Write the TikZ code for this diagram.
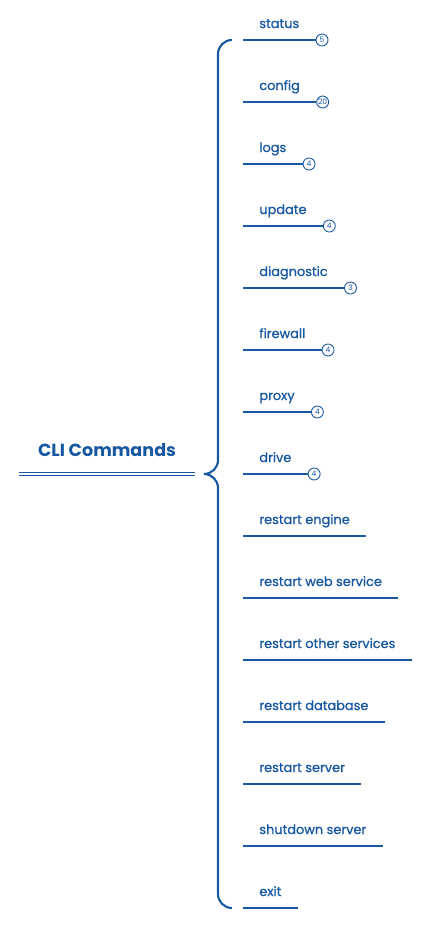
\documentclass[tikz,border=0pt]{standalone}
\usepackage{fontspec}
\setmainfont{Poppins}
\newfontfamily\cmdfont{Poppins}[FakeBold=1.0]
\definecolor{cmdblue}{RGB}{24,88,160}
\tikzset{
  title/.style={text=cmdblue, font=\fontsize{10}{12}\selectfont\bfseries},
  cmd/.style={anchor=base west, inner xsep=0.32cm, inner ysep=0pt, text=cmdblue, font=\cmdfont\fontsize{7.35}{8}\selectfont},
  cmdline/.style={cmdblue, line width=1.2pt},
  badge/.style={circle, draw=cmdblue, fill=white, line width=0.5pt, inner sep=0pt, minimum size=0.24cm, text=cmdblue, font=\fontsize{4.3}{5}\selectfont, anchor=west},
}

\begin{document}
\begin{tikzpicture}[x=0.02cm,y=-0.02cm]
      \useasboundingbox (0,0) rectangle (441,934);
      % root
      \node[title] (root) at (107,450) {CLI Commands};
      \coordinate (rootw) at (19,474);
      \coordinate (roote) at (195,474);
      \draw[cmdblue, double, double distance=1pt, line width=0.8pt] (rootw) -- (roote);
      % brace
      \coordinate (tip) at (204,474);
      \coordinate (top) at (232,40);
      \coordinate (bottom) at (232,908);
      \draw[cmdline] (tip) to[out=0,in=-90] (218,460) -- (218,54) to[out=90,in=180] (top);
      \draw[cmdline] (tip) to[out=0,in=90] (218,488) -- (218,894) to[out=-90,in=180] (bottom);
      % commands with counts
      \node[cmd] (status) at (243,28) {status};
      \draw[cmdline] (status.west |- 0,40) -- (status.east |- 0,40) node[badge] (statusn) {5};
      \node[cmd] (config) at (243,90) {config};
      \draw[cmdline] (config.west |- 0,102) -- (config.east |- 0,102) node[badge] (confign) {20};
      \node[cmd] (logs) at (243,152) {logs};
      \draw[cmdline] (logs.west |- 0,164) -- (logs.east |- 0,164) node[badge] (logsn) {4};
      \node[cmd] (update) at (243,214) {update};
      \draw[cmdline] (update.west |- 0,226) -- (update.east |- 0,226) node[badge] (updaten) {4};
      \node[cmd] (diag) at (243,276) {diagnostic};
      \draw[cmdline] (diag.west |- 0,288) -- (diag.east |- 0,288) node[badge] (diagn) {3};
      \node[cmd] (firewall) at (243,338) {firewall};
      \draw[cmdline] (firewall.west |- 0,350) -- (firewall.east |- 0,350) node[badge] (firewalln) {4};
      \node[cmd] (proxy) at (243,400) {proxy};
      \draw[cmdline] (proxy.west |- 0,412) -- (proxy.east |- 0,412) node[badge] (proxyn) {4};
      \node[cmd] (drive) at (243,462) {drive};
      \draw[cmdline] (drive.west |- 0,474) -- (drive.east |- 0,474) node[badge] (driven) {4};
      % plain commands
      \node[cmd] (rengine) at (243,524) {restart engine};
      \draw[cmdline] (rengine.west |- 0,536) -- (rengine.east |- 0,536);
      \node[cmd] (rweb) at (243,586) {restart web service};
      \draw[cmdline] (rweb.west |- 0,598) -- (rweb.east |- 0,598);
      \node[cmd] (rother) at (243,648) {restart other services};
      \draw[cmdline] (rother.west |- 0,660) -- (rother.east |- 0,660);
      \node[cmd] (rdb) at (243,710) {restart database};
      \draw[cmdline] (rdb.west |- 0,722) -- (rdb.east |- 0,722);
      \node[cmd] (rserver) at (243,772) {restart server};
      \draw[cmdline] (rserver.west |- 0,784) -- (rserver.east |- 0,784);
      \node[cmd] (shutdown) at (243,834) {shutdown server};
      \draw[cmdline] (shutdown.west |- 0,846) -- (shutdown.east |- 0,846);
      \node[cmd] (exit) at (243,896) {exit};
      \draw[cmdline] (exit.west |- 0,908) -- (exit.east |- 0,908);
    \end{tikzpicture}
\end{document}
